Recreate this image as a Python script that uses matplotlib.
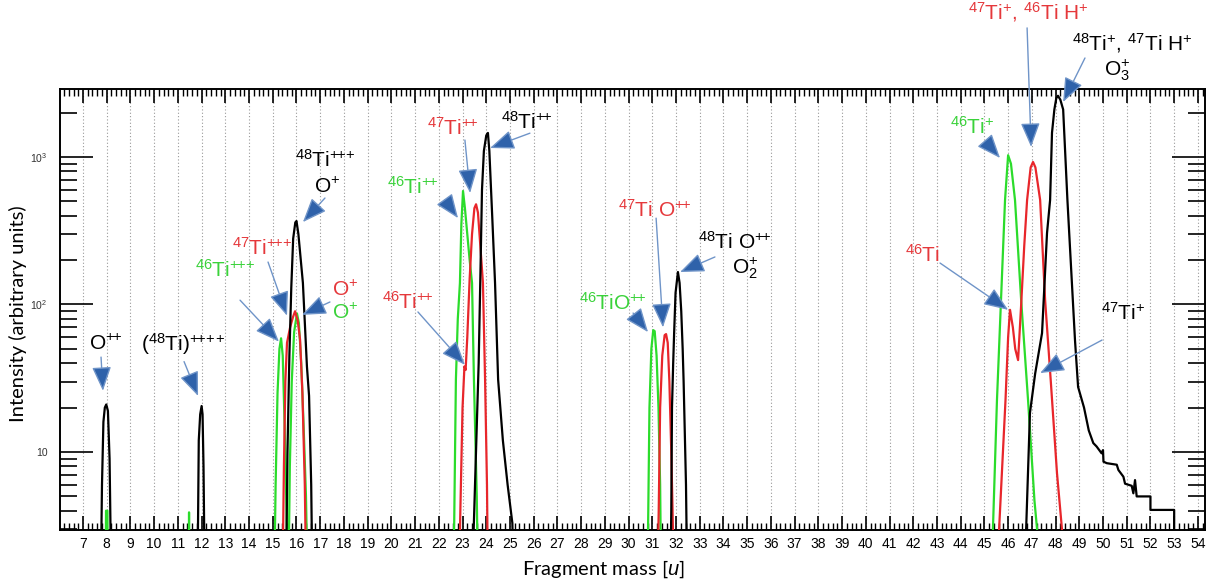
import numpy as np
import matplotlib
matplotlib.use("Agg")
import matplotlib.pyplot as plt
from matplotlib.ticker import FixedLocator, MultipleLocator, NullFormatter

plt.rcParams['font.family'] = ['Liberation Sans', 'DejaVu Sans']
plt.rcParams['mathtext.fontset'] = 'custom'
plt.rcParams['mathtext.rm'] = 'Liberation Sans'
plt.rcParams['mathtext.it'] = 'Liberation Sans:italic'

# spectra (values below ~3 sit under the axis)
black_x = [7.74, 7.80, 7.86, 7.92, 7.98, 8.05, 8.12, 8.20,
           11.82, 11.88, 11.94, 12.00, 12.04, 12.08, 12.14,
           15.55, 15.62, 15.70, 15.78, 15.86, 15.95, 16.00, 16.08, 16.27, 16.44, 16.53, 16.62, 16.68,
           23.40, 23.47, 23.60, 23.68, 23.75, 23.82, 23.90, 24.00, 24.07, 24.13, 24.25, 24.37, 24.50, 24.70, 24.90, 25.10, 25.18,
           31.75, 31.80, 31.83, 31.88, 31.92, 31.98, 32.08, 32.15, 32.22, 32.28, 32.32, 32.42, 32.48,
           46.70, 46.76, 46.92, 47.14, 47.43, 47.64, 47.77, 47.85, 47.95, 48.03, 48.10, 48.20, 48.32, 48.50, 48.82,
           48.95, 49.20, 49.40, 49.59, 49.73, 49.94, 50.00, 50.02, 50.16, 50.58, 50.65, 50.86, 50.93, 51.21, 51.28,
           51.35, 51.42, 52.00, 52.00, 53.00, 53.00]
black_y = [1, 6, 16, 20, 21, 19, 9, 1,
           1, 12, 18, 20.5, 18, 8, 1,
           1, 10, 45, 130, 280, 360, 368, 300, 140, 38, 24, 6, 1,
           1, 3, 15, 40, 150, 600, 1100, 1400, 1456, 1100, 400, 140, 31, 12, 6, 3.3, 1,
           1, 4, 20, 40, 64, 120, 166, 140, 90, 50, 30, 6, 1,
           1, 3, 18.4, 34, 64, 305, 511, 1460, 2100, 2500, 2600, 2450, 2100, 511, 57,
           27.6, 20, 14, 11.5, 10.9, 9.8, 10.3, 8.6, 8.4, 8.2, 7.55, 6.8, 6.1, 5.9, 5.25,
           6.45, 5.0, 5.0, 4.05, 4.05, 1]

red_x = [15.40, 15.47, 15.53, 15.60, 15.73, 15.85, 15.94, 16.05, 16.15, 16.25, 16.35, 16.42,
         22.85, 22.90, 23.00, 23.08, 23.13, 23.20, 23.30, 23.40, 23.50, 23.57, 23.65, 23.75, 23.86, 23.95, 24.03, 24.08,
         31.20, 31.27, 31.33, 31.42, 31.52, 31.58, 31.65, 31.72, 31.80, 31.87, 31.90,
         45.55, 45.62, 45.89, 46.00, 46.08, 46.20, 46.30, 46.42, 46.55, 46.68, 46.80, 46.95, 47.05, 47.15,
         47.35, 47.56, 47.80, 48.06, 48.27, 48.32]
red_y = [1, 8, 30, 55, 70, 82, 90, 78, 58, 25, 6, 1,
         1, 3.5, 20, 38, 36, 60, 150, 300, 450, 478, 420, 250, 140, 31, 6, 1,
         1, 4, 20, 45, 62, 63, 55, 30, 10, 3, 1,
         1, 3, 22.5, 60, 92, 70, 50, 42, 100, 250, 511, 850, 925, 850,
         511, 107, 30, 7.2, 3, 1]

green_x = [7.95, 7.97, 8.00, 8.03, 8.05,
           11.44, 11.47, 11.50,
           15.05, 15.12, 15.20, 15.28, 15.35, 15.42, 15.50, 15.58, 15.63,
           15.65, 15.72, 15.80, 15.90, 16.02, 16.10, 16.20, 16.30, 16.40, 16.48,
           22.60, 22.65, 22.72, 22.80, 22.89, 22.95, 23.02, 23.10, 23.20, 23.30, 23.40, 23.48, 23.60, 23.66,
           30.78, 30.83, 30.88, 30.96, 31.04, 31.10, 31.18, 31.26, 31.33, 31.38,
           45.30, 45.36, 45.53, 45.70, 45.87, 46.00, 46.12, 46.29, 46.55, 46.84, 47.11, 47.22, 47.28]
green_y = [1, 4, 4, 4, 1,
           1, 3.9, 1,
           1, 6, 25, 50, 59, 45, 15, 4, 1,
           1, 8, 30, 65, 87, 75, 40, 15, 5, 1,
           1, 3.5, 31, 80, 140, 350, 588, 450, 300, 200, 140, 31, 5, 1,
           1, 4, 20, 50, 67, 66, 45, 20, 6, 1,
           1, 3, 22.5, 107, 511, 1028, 900, 511, 107, 22.5, 4.7, 3, 1]

RED = '#e8262b'
GREEN = '#2bdc2b'
TXT_RED = '#e5383b'
TXT_GREEN = '#3ad23a'

P2 = r'+\!\!+'
P3 = r'+\!\!+\!\!+'
P4 = r'+\!\!+\!\!+\!\!+'

# labels: text, colour, text position, arrow start, arrow tip (data units)
labels = [
    (r'O$^{' + P2 + '}$', 'black', (7.95, 54), (7.76, 44), (7.84, 26)),
    (r'($^{48}$Ti)$^{' + P4 + '}$', 'black', (11.2, 54), (11.26, 41), (11.85, 24)),
    (r'$^{48}$Ti$^{' + P3 + '}$', 'black', (17.2, 955), (17.2, 527), (16.27, 362)),
    (r'$^{47}$Ti$^{' + P3 + '}$', TXT_RED, (14.55, 241), (14.8, 194), (15.6, 84)),
    (r'$^{46}$Ti$^{' + P3 + '}$', TXT_GREEN, (13.0, 171), (13.62, 107), (15.26, 56)),
    (r'O$^{+}$', TXT_RED, (18.05, 125), (17.41, 104), (16.23, 85)),
    (r'$^{46}$Ti$^{' + P2 + '}$', TXT_GREEN, (20.9, 627), (22.26, 511), (22.81, 385)),
    (r'$^{47}$Ti$^{' + P2 + '}$', TXT_RED, (22.6, 1575), (23.1, 1303), (23.32, 570)),
    (r'$^{48}$Ti$^{' + P2 + '}$', 'black', (25.72, 1726), (25.84, 1450), (24.16, 1151)),
    (r'$^{46}$Ti$^{' + P2 + '}$', TXT_RED, (20.7, 104), (21.12, 89), (23.1, 39)),
    (r'$^{47}$Ti O$^{' + P2 + '}$', TXT_RED, (31.11, 437), (31.16, 385), (31.45, 70)),
    (r'$^{46}$TiO$^{' + P2 + '}$', TXT_GREEN, (29.34, 102), (30.19, 87.5), (30.82, 65)),
    (r'$^{48}$Ti O$^{' + P2 + '}$', 'black', (34.49, 265), (33.64, 210), (32.17, 166)),
    (r'$^{46}$Ti$^{+}$', TXT_GREEN, (44.48, 1596), (45.11, 1244), (45.66, 984)),
    (r'$^{47}$Ti$^{+}$, $^{46}$Ti H$^{+}$', TXT_RED, (46.84, 9617), (46.8, 7500), (46.97, 1170)),
    (r'$^{48}$Ti$^{+}$, $^{47}$Ti H$^{+}$', 'black', (51.22, 5930), (49.24, 4690), (48.32, 2360)),
    (r'$^{46}$Ti', TXT_RED, (42.41, 217), (43.13, 191), (46.0, 92)),
    (r'$^{47}$Ti$^{+}$', 'black', (50.84, 87.5), (49.96, 57.4), (47.35, 34.3)),
]
# second lines without arrows
extra_labels = [
    (r'O$^{+}$', 'black', (17.29, 627)),
    (r'O$^{+}$', TXT_GREEN, (18.05, 87.5)),
    (r'O$_2^{+}$', 'black', (34.91, 177)),
    (r'O$_3^{+}$', 'black', (50.59, 3890)),
]

fig = plt.figure(figsize=(12.18, 5.86), dpi=100)
ax = fig.add_axes([60 / 1218, 56 / 586, 1145 / 1218, 441 / 586])

ax.plot(green_x, green_y, color=GREEN, lw=1.6, zorder=3)
ax.plot(red_x, red_y, color=RED, lw=1.6, zorder=4)
ax.plot(black_x, black_y, color='black', lw=1.6, zorder=5)

ax.set_yscale('log')
ax.set_xlim(6.03, 54.3)
ax.set_ylim(2.96, 2890)

ax.xaxis.set_major_locator(MultipleLocator(1))
ax.xaxis.set_minor_locator(MultipleLocator(0.2))
ax.yaxis.set_major_locator(FixedLocator([10, 100, 1000]))
ax.set_yticklabels(['10', r'$10^2$', r'$10^3$'])
minors = [m * 10 ** e for e in range(0, 4) for m in range(2, 10)]
ax.yaxis.set_minor_locator(FixedLocator(minors))
ax.yaxis.set_minor_formatter(NullFormatter())

ax.tick_params(axis='x', which='major', direction='in', length=10, width=1.2,
               top=True, labelsize=10, pad=5)
ax.tick_params(axis='x', which='minor', direction='in', length=5, width=1.0, top=True)
ax.tick_params(axis='y', which='major', direction='in', length=24, width=1.2,
               right=True, labelsize=7.5, pad=9, labelcolor='#333333')
ax.tick_params(axis='y', which='minor', direction='in', length=12, width=1.2, right=True)
for s in ax.spines.values():
    s.set_linewidth(1.4)

ax.grid(axis='x', which='major', linestyle=(0, (1, 2)), color='#999999', lw=0.8)
ax.set_axisbelow(True)

for txt, col, pos, start, tip in labels:
    ax.text(pos[0], pos[1], txt, color=col, fontsize=15, ha='center', va='center', zorder=7)
    ax.annotate('', xy=tip, xytext=start, annotation_clip=False, zorder=8,
                arrowprops=dict(arrowstyle='-|>,head_length=0.6,head_width=0.24',
                                mutation_scale=25, fc='#2f62aa', ec='#6f94c8',
                                lw=1.0, shrinkA=0, shrinkB=0))
for txt, col, pos in extra_labels:
    ax.text(pos[0], pos[1], txt, color=col, fontsize=15, ha='center', va='center', zorder=7)

fig.text(603 / 1218, 1 - 569 / 586, r'Fragment mass [$\it{u}$]', family=['Lato', 'DejaVu Sans'],
         fontsize=14.5, ha='center', va='center')
fig.text(18 / 1218, 1 - 314 / 586, 'Intensity (arbitrary units)', family=['Lato', 'DejaVu Sans'],
         fontsize=14.5, ha='center', va='center', rotation=90)

fig.savefig('out.png', dpi=100)
